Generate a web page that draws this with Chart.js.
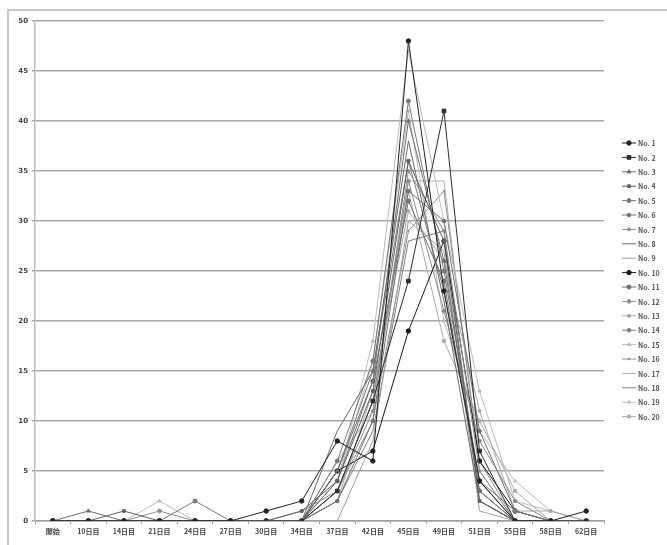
<!DOCTYPE html>
<html>
<head>
<meta charset="utf-8">
<script src="https://cdn.jsdelivr.net/npm/chart.js@4"></script>
<style>
html,body{margin:0;padding:0;background:#fff;}
#wrap{width:667px;height:545px;position:relative;}
</style>
</head>
<body>
<div id="wrap"><canvas id="c" width="667" height="545"></canvas></div>
<script>
const categories = ['開始','10日目','14日目','21日目','24日目','27日目','30日目','34日目','37日目','42日目','45日目','49日目','51日目','55日目','58日目','62日目'];
const yTicks = [0,5,10,15,20,25,30,35,40,45,50];

const s1  = [0,0,0,0,0,0,1,2,8,6,48,23,4,0,0,1];
const s2  = [0,0,0,0,0,0,0,0,3,12,24,41,7,0,0,0];
const s3  = [0,1,0,0,0,0,0,0,5,14,40,26,3,0,0,0];
const s4  = [0,0,1,0,0,0,0,1,4,13,36,28,2,0,0,0];
const s5  = [0,0,0,0,2,0,0,0,6,16,42,25,4,1,0,0];
const s6  = [0,0,0,0,0,0,0,0,2,10,33,30,9,1,0,0];
const s7  = [0,0,0,0,0,0,0,1,3,11,35,29,5,0,0,0];
const s8  = [0,0,0,0,0,0,0,0,9,15,38,22,2,0,0,0];
const s9  = [0,0,0,0,0,0,0,0,0,8,30,27,1,0,0,0];
const s10 = [0,0,0,0,0,0,0,0,5,7,19,28,6,1,0,0];
const s11 = [0,0,0,0,0,0,0,0,4,14,32,24,3,0,0,0];
const s12 = [0,0,0,1,0,0,0,0,3,12,34,21,8,2,0,0];
const s13 = [0,0,0,0,0,0,0,0,2,13,31,26,11,1,1,0];
const s14 = [0,0,0,0,0,0,0,0,5,15,36,23,4,0,0,0];
const s15 = [0,0,0,2,0,0,0,0,4,18,47,30,13,2,1,0];
const s16 = [0,0,0,0,0,0,0,0,3,10,29,33,6,0,0,0];
const s17 = [0,0,0,0,0,0,0,0,6,11,34,34,5,0,0,0];
const s18 = [0,0,0,0,0,0,0,0,2,9,28,29,2,0,0,0];
const s19 = [0,0,0,0,0,0,0,0,4,16,41,20,9,4,1,0];
const s20 = [0,0,0,0,0,0,0,0,3,12,33,18,10,3,0,0];

const seriesNames = ['No. 1','No. 2','No. 3','No. 4','No. 5','No. 6','No. 7','No. 8','No. 9','No. 10','No. 11','No. 12','No. 13','No. 14','No. 15','No. 16','No. 17','No. 18','No. 19','No. 20'];
const seriesValues = [s1,s2,s3,s4,s5,s6,s7,s8,s9,s10,s11,s12,s13,s14,s15,s16,s17,s18,s19,s20];

const styles = [
  {c:'#222222', p:'circle', r:2.2},
  {c:'#2e2e2e', p:'rect', r:2.6},
  {c:'#6e6e6e', p:'triangle', r:2.2},
  {c:'#606060', p:'rect', r:1.9},
  {c:'#7a7a7a', p:'circle', r:2.0},
  {c:'#727272', p:'circle', r:1.8},
  {c:'#8c8c8c', p:'circle', r:1.4},
  {c:'#6a6a6a', p:'circle', r:0},
  {c:'#a0a0a0', p:'circle', r:0},
  {c:'#1c1c1c', p:'circle', r:2.2},
  {c:'#707070', p:'circle', r:2.0},
  {c:'#8e8e8e', p:'circle', r:1.8},
  {c:'#a8a8a8', p:'rect', r:1.8},
  {c:'#7e7e7e', p:'circle', r:1.8},
  {c:'#bcbcbc', p:'triangle', r:2.0},
  {c:'#909090', p:'crossRot', r:1.8},
  {c:'#b0b0b0', p:'circle', r:0},
  {c:'#808080', p:'circle', r:0},
  {c:'#bcbcbc', p:'triangle', r:1.8},
  {c:'#acacac', p:'rect', r:2.0}
];

const datasets = seriesValues.map((v,i)=>({
  label: seriesNames[i],
  data: v,
  borderColor: styles[i].c,
  backgroundColor: styles[i].c,
  borderWidth: 1,
  pointStyle: styles[i].p,
  pointRadius: styles[i].r,
  pointBorderWidth: 1,
  tension: 0,
  fill: false
}));

const frame = {
  id:'frame',
  beforeDraw(chart){
    const ctx = chart.ctx;
    ctx.save();
    ctx.fillStyle='#fff';
    ctx.fillRect(0,0,chart.width,chart.height);
    ctx.strokeStyle='#c8c8c8';
    ctx.lineWidth=2;
    ctx.beginPath();
    ctx.moveTo(8,545);
    ctx.lineTo(8,10);
    ctx.lineTo(667,10);
    ctx.stroke();
    ctx.restore();
  }
};

const legendPlugin = {
  id:'customLegend',
  afterDraw(chart){
    const ctx = chart.ctx;
    ctx.save();
    chart.data.datasets.forEach((ds,i)=>{
      const y = 143 + i*14.4;
      ctx.strokeStyle = ds.borderColor;
      ctx.lineWidth = 1;
      ctx.beginPath();
      ctx.moveTo(622,y); ctx.lineTo(636,y); ctx.stroke();
      if (ds.pointRadius>0){
        ctx.fillStyle = ds.backgroundColor;
        ctx.strokeStyle = ds.borderColor;
        Chart.helpers.drawPoint(ctx,{pointStyle:ds.pointStyle,radius:ds.pointRadius,rotation:0,borderWidth:1},629,y);
      }
      ctx.fillStyle='#555';
      ctx.font='bold 7px "Noto Sans CJK JP", "DejaVu Sans", sans-serif';
      ctx.textBaseline='middle';
      ctx.textAlign='left';
      ctx.fillText(ds.label,638,y+0.5);
    });
    ctx.restore();
  }
};

new Chart(document.getElementById('c'),{
  type:'line',
  data:{labels:categories, datasets:datasets},
  options:{
    responsive:false,
    animation:false,
    layout:{padding:{left:8,top:21,right:63,bottom:0}},
    plugins:{legend:{display:false},tooltip:{enabled:false}},
    scales:{
      x:{
        offset:true,
        afterFit(s){ s.height = 24; },
        grid:{display:true, offset:true, drawOnChartArea:false, color:'#a0a0a0', tickLength:3, lineWidth:1},
        border:{display:true,color:'#a0a0a0',width:1.5},
        ticks:{color:'#444', font:{size:7, weight:'bold', family:'"Noto Sans CJK JP", sans-serif'}, padding:3, maxRotation:0, autoSkip:false}
      },
      y:{
        min:0,max:50,
        afterFit(s){ s.width = 27; },
        afterBuildTicks(s){ s.ticks = yTicks.map(v=>({value:v})); },
        grid:{color:'#a8a8a8', lineWidth:1.6, tickLength:3, drawTicks:true},
        border:{display:true,color:'#bbb',width:1.5},
        ticks:{color:'#444', font:{size:7, weight:'bold', family:'"DejaVu Sans", sans-serif'}, padding:4}
      }
    }
  },
  plugins:[frame,legendPlugin]
});
</script>
</body>
</html>
